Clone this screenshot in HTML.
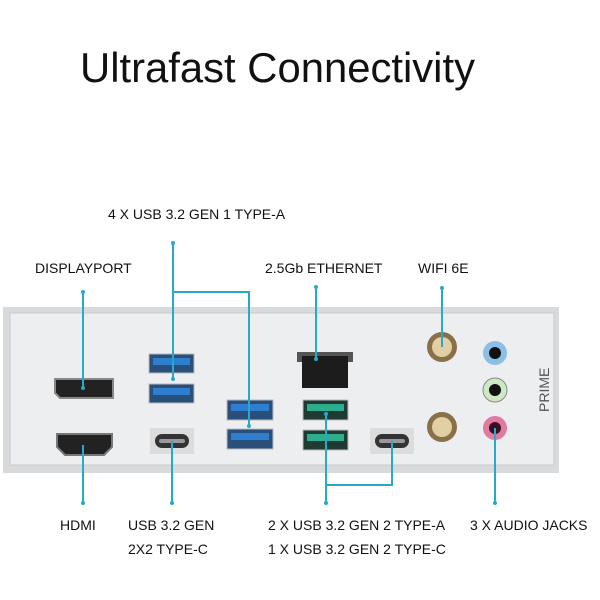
<!DOCTYPE html>
<html><head><meta charset="utf-8"><style>
html,body{margin:0;padding:0;background:#fff;}
svg{display:block;}
text{font-family:"Liberation Sans",sans-serif;fill:#111;}
</style></head><body>
<svg width="600" height="600" viewBox="0 0 600 600">
<text x="80" y="82" font-size="42" textLength="395" lengthAdjust="spacingAndGlyphs">Ultrafast Connectivity</text>
<g font-size="14">
<text x="108" y="219">4 X USB 3.2 GEN 1 TYPE-A</text>
<text x="35" y="273">DISPLAYPORT</text>
<text x="265" y="273">2.5Gb ETHERNET</text>
<text x="418" y="273">WIFI 6E</text>
<text x="60" y="530">HDMI</text>
<text x="128" y="530">USB 3.2 GEN</text>
<text x="128" y="554">2X2 TYPE-C</text>
<text x="268" y="530">2 X USB 3.2 GEN 2 TYPE-A</text>
<text x="268" y="554">1 X USB 3.2 GEN 2 TYPE-C</text>
<text x="470" y="530">3 X AUDIO JACKS</text>
</g>
<rect x="3" y="307" width="556" height="166" fill="#d8dadc"/>
<rect x="10" y="313" width="544" height="152" fill="#eceef0"/>
<rect x="10" y="313" width="544" height="152" fill="none" stroke="#c9cbcd" stroke-width="1"/>
<path d="M55 379 H113 V398 H60 L55 393 Z" fill="#222" stroke="#888" stroke-width="2"/>
<path d="M57 434 H112 V447 L104 455 H65 L57 447 Z" fill="#222" stroke="#777" stroke-width="2"/>
<rect x="149" y="354" width="45" height="19" fill="#2a4f7a" stroke="#bbb"/><rect x="153" y="358" width="37" height="7" fill="#2f7fd0"/>
<rect x="149" y="384" width="45" height="19" fill="#2a4f7a" stroke="#bbb"/><rect x="153" y="388" width="37" height="7" fill="#2f7fd0"/>
<rect x="227" y="400" width="46" height="20" fill="#2a4f7a" stroke="#bbb"/><rect x="231" y="404" width="38" height="7" fill="#2f7fd0"/>
<rect x="227" y="429" width="46" height="20" fill="#2a4f7a" stroke="#bbb"/><rect x="231" y="433" width="38" height="7" fill="#2f7fd0"/>
<rect x="297" y="352" width="56" height="10" fill="#555"/>
<rect x="302" y="356" width="46" height="32" fill="#1c1c1c"/>
<rect x="303" y="400" width="45" height="20" fill="#1f3a32" stroke="#bbb"/><rect x="307" y="404" width="37" height="7" fill="#2fae8e"/>
<rect x="303" y="430" width="45" height="20" fill="#1f3a32" stroke="#bbb"/><rect x="307" y="434" width="37" height="7" fill="#2fae8e"/>
<rect x="150" y="428" width="44" height="26" fill="#dcdcdc"/>
<rect x="155" y="434" width="34" height="14" rx="7" fill="#333"/><rect x="159" y="439" width="26" height="4" rx="2" fill="#999"/>
<rect x="370" y="428" width="44" height="26" fill="#dcdcdc"/>
<rect x="375" y="434" width="34" height="14" rx="7" fill="#333"/><rect x="379" y="439" width="26" height="4" rx="2" fill="#999"/>
<circle cx="442" cy="347" r="15" fill="#8a7048"/><circle cx="442" cy="347" r="10" fill="#e2cfa3"/>
<circle cx="442" cy="427" r="15" fill="#8a7048"/><circle cx="442" cy="427" r="10" fill="#e2cfa3"/>
<circle cx="495" cy="353" r="12" fill="#8bbfe6"/><circle cx="495" cy="353" r="6" fill="#111"/>
<circle cx="495" cy="390" r="12" fill="#cfe8c4" stroke="#888"/><circle cx="495" cy="390" r="6" fill="#111"/>
<circle cx="495" cy="428" r="12" fill="#e07aa3"/><circle cx="495" cy="428" r="6" fill="#3a1020"/>
<text x="0" y="0" font-size="14" transform="translate(549,412) rotate(-90)" style="fill:#555">PRIME</text>
<g stroke="#2aa8cc" stroke-width="2" fill="none">
<path d="M83 292 V388"/>
<path d="M173 243 V379 M173 292 H249 V426"/>
<path d="M316 287 V359"/>
<path d="M442 288 V347"/>
<path d="M83 445 V503"/>
<path d="M172 441 V503"/>
<path d="M326 414 V503 M326 485 H392 V441"/>
<path d="M495 428 V503"/>
</g>
<g fill="#2aa8cc">
<circle cx="83" cy="292" r="2"/><circle cx="83" cy="388" r="2"/>
<circle cx="173" cy="243" r="2"/><circle cx="173" cy="379" r="2"/><circle cx="249" cy="426" r="2"/>
<circle cx="316" cy="287" r="2"/><circle cx="316" cy="359" r="2"/>
<circle cx="442" cy="288" r="2"/>
<circle cx="83" cy="503" r="2"/><circle cx="172" cy="503" r="2"/><circle cx="326" cy="503" r="2"/><circle cx="495" cy="503" r="2"/>
<circle cx="326" cy="414" r="2"/>
</g>
</svg>
</body></html>
